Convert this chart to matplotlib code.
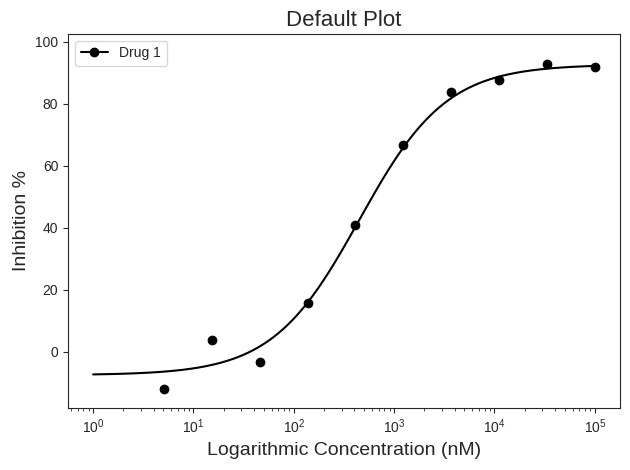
import numpy as np
import matplotlib
matplotlib.use("Agg")
import matplotlib.pyplot as plt
import seaborn as sns

# Data points
concentration_nM = [5.08, 15.2, 45.7, 137.2, 411.5, 1234.6, 3703.7, 11111.1, 33333.3, 100000.0]
inhibition_pct = [-12.0, 3.9, -3.2, 15.9, 40.8, 66.7, 83.8, 87.7, 92.9, 91.9]

# 4-parameter logistic fit parameters
fit_bottom = -7.5
fit_top = 92.7
fit_ic50 = 450.0
fit_hill = 1.0
curve_range = [1.0, 100000.0]

series_label = "Drug 1"
y_limits = [-18.1, 102.6]

sns.set_style("ticks")
plt.rcParams['font.family'] = ['Liberation Sans', 'DejaVu Sans']

fig, ax = plt.subplots(figsize=(6.3, 4.7), dpi=100)
fig.subplots_adjust(left=0.108, right=0.984, top=0.928, bottom=0.132)

xs = np.logspace(np.log10(curve_range[0]), np.log10(curve_range[1]), 400)
ys = fit_bottom + (fit_top - fit_bottom) / (1 + (fit_ic50 / xs) ** fit_hill)

ax.plot(xs, ys, color="black", linewidth=1.5)
ax.plot(concentration_nM, inhibition_pct, "o", color="black", markersize=6)
ax.plot([], [], "-o", color="black", label=series_label)

ax.set_xscale("log")
ax.set_ylim(*y_limits)
ax.set_title("Default Plot", fontsize=16)
ax.set_xlabel("Logarithmic Concentration (nM)", fontsize=14)
ax.set_ylabel("Inhibition %", fontsize=14)
ax.legend(loc="upper left")

fig.savefig("out.png", dpi=100)
